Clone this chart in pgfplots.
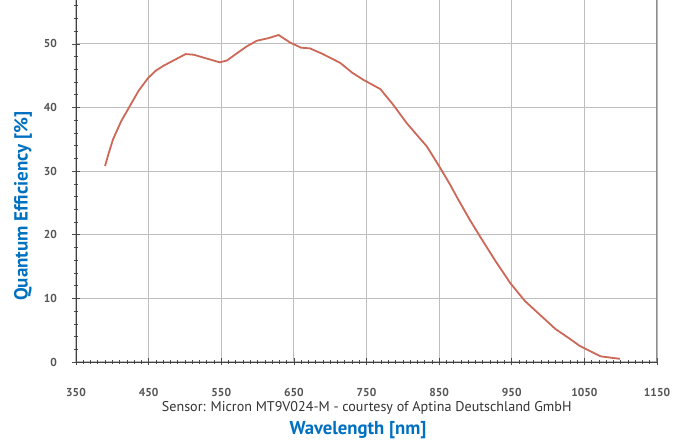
\documentclass[border=0pt]{standalone}
\usepackage{fontspec}
\setmainfont{PT Sans}
\usepackage{pgfplots}
\pgfplotsset{compat=1.18}
\definecolor{qeblue}{RGB}{0,112,192}
\definecolor{qered}{RGB}{204,104,88}
\definecolor{gridgray}{RGB}{190,190,190}
\definecolor{ticktext}{RGB}{85,85,85}
\begin{document}
\begin{tikzpicture}[x=1pt,y=1pt]
\useasboundingbox (-76,-79) rectangle (601,362);
\begin{axis}[
    at={(0,0)}, anchor=south west,
    scale only axis, width=581pt, height=362pt,
    xmin=350, xmax=1150, ymin=0, ymax=56.9,
    axis x line*=bottom, axis y line*=left,
    axis line style={black!75, line width=0.8pt},
    xtick={350,450,...,1150},
    minor x tick num=9,
    ytick={0,10,...,50},
    minor ytick={2,4,...,56},
    tick align=center,
    major tick length=7pt, minor tick length=4pt,
    tick style={black!70, line width=0.6pt},
    grid=major,
    major grid style={gridgray, line width=1.1pt},
    /pgf/number format/assume math mode=true,
    /pgf/number format/set thousands separator={},
    ticklabel style={font=\bfseries\fontsize{11.5}{11.5}\selectfont, text=ticktext},
    xticklabel style={anchor=north, yshift=-19pt},
    yticklabel style={anchor=east, xshift=-12pt},
]
\draw[black!45, line width=2.2pt] (rel axis cs:1,0) -- (rel axis cs:1,1);
\addplot[qered, line width=1.8pt] coordinates {
(390,30.8) (395,32.8) (401,35.0) (412,37.8) (424,40.2) (436,42.6) (449,44.6)
(460,45.8) (471,46.6) (486,47.5) (501,48.4) (512,48.3) (530,47.7) (548,47.1)
(558,47.4) (570,48.4) (585,49.6) (599,50.5) (615,50.9) (629,51.4) (645,50.2)
(660,49.4) (672,49.3) (690,48.4) (714,47.0) (730,45.5) (745,44.4) (769,42.9)
(787,40.4) (805,37.6) (820,35.6) (833,33.9) (851,30.6) (865,27.9) (876,25.6)
(892,22.4) (907,19.6) (928,15.8) (948,12.4) (968,9.6) (989,7.4) (1010,5.2)
(1028,3.8) (1044,2.5) (1058,1.7) (1072,0.9) (1085,0.7) (1099,0.5)
};
\end{axis}
\node[rotate=90, text=qeblue, font=\bfseries\fontsize{19}{19}\selectfont] at (-53,156) {Quantum Efficiency [\%]};
\node[text=black!80, font=\fontsize{14.1}{14.1}\selectfont] at (290.7,-45.7) {Sensor: Micron MT9V024-M - courtesy of Aptina Deutschland GmbH};
\node[text=qeblue, font=\bfseries\fontsize{18.7}{18.7}\selectfont] at (282,-68) {Wavelength [nm]};
\end{tikzpicture}
\end{document}
